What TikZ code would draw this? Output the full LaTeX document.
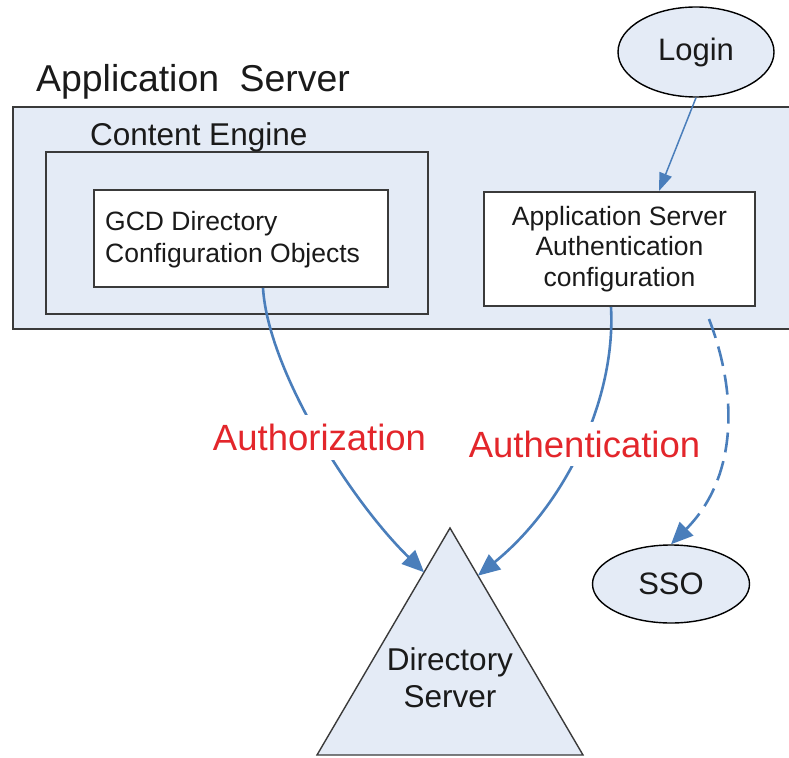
\documentclass[tikz,border=0pt]{standalone}
\usepackage{fontspec}
\setmainfont{Liberation Sans}
\usetikzlibrary{arrows.meta,shapes.geometric,calc}
\definecolor{lb}{HTML}{E4EBF6}
\definecolor{ln}{HTML}{4A7EBB}
\definecolor{rd}{HTML}{E3262B}
\definecolor{bd}{HTML}{3A3A3A}
\definecolor{tx}{HTML}{1A1A1A}
\begin{document}
\begin{tikzpicture}[x=1pt,y=-1pt,
  box/.style={draw=bd,line width=2pt,inner sep=0pt,anchor=north west},
  ell/.style={ellipse,draw=black,line width=1.4pt,fill=lb,inner sep=0pt,text=tx,
     font=\fontsize{31}{37}\selectfont},
  conn/.style={draw=ln,line width=2.6pt,-{Triangle[length=22pt,width=19pt]}},
  thin/.style={draw=ln,line width=1.5pt,-{Triangle[length=18pt,width=13pt]}},
  lab/.style={fill=white,text=rd,inner xsep=3pt,inner ysep=9pt,
     font=\fontsize{36.5}{44}\selectfont},
  ttl/.style={anchor=base west,inner sep=0pt,text=tx}]
\useasboundingbox (0,0) rectangle (789,757);
\clip (0,0) rectangle (789,757);
% outer application server box
\node[box,fill=lb,minimum width=790pt,minimum height=222pt] (appsrv) at (12,106) {};
\node[ttl,font=\fontsize{37.4}{44}\selectfont] (appttl) at (36,92) {Application\hspace{0.55em}Server};
% content engine
\node[box,minimum width=382pt,minimum height=162pt] (ce) at (45,151) {};
\node[ttl,font=\fontsize{31.5}{38}\selectfont] (cettl) at (90,146) {Content Engine};
% GCD box
\node[box,fill=white,minimum width=294pt,minimum height=97pt] (gcd) at (93,189) {};
\node[anchor=west,align=left,inner sep=0pt,text=tx,font=\fontsize{26.5}{32}\selectfont]
  (gcdtxt) at (105,240) {GCD Directory\\Configuration Objects};
% auth config box
\node[box,fill=white,minimum width=271pt,minimum height=114pt,align=center,
  text=tx,font=\fontsize{26.5}{30.5}\selectfont] (auth) at (483,191)
  {Application Server\\Authentication\\configuration};
% login & sso
\node[ell,minimum width=156pt,minimum height=90pt] (login) at (696,52) {Login};
\node[ell,minimum width=157pt,minimum height=78pt] (sso) at (671,584) {SSO};
% directory server triangle
\coordinate (apex) at (450,528);
\coordinate (bl) at (317,755);
\coordinate (br) at (583,755);
\draw[draw=bd,line width=1.4pt,fill=lb,line join=miter] (apex) -- (br) -- (bl) -- cycle;
\node[align=center,inner sep=0pt,text=tx,font=\fontsize{31.5}{37}\selectfont]
  (dir) at (450,678) {Directory\\Server};
\coordinate (dirL) at ($(apex)!0.195!(bl)$);
\coordinate (dirR) at ($(apex)!0.21!(br)$);
% connectors
\draw[thin] (login.south) -- ([xshift=39.5pt]auth.north);
\draw[conn] ([xshift=22pt]gcd.south) .. controls (268,370) and (350,500) .. (dirL);
\draw[conn] ([xshift=-8.5pt]auth.south) .. controls (616,400) and (565,505) .. (dirR);
\draw[conn,dash pattern=on 20pt off 9pt] ([xshift=89.5pt,yshift=-12pt]auth.south)
  .. controls (740,400) and (735,480) .. (sso.north);
% labels
\node[lab] (authz) at (319.5,437.5) {Authorization};
\node[lab] (authn) at (584.5,444) {Authentication};
\end{tikzpicture}
\end{document}
